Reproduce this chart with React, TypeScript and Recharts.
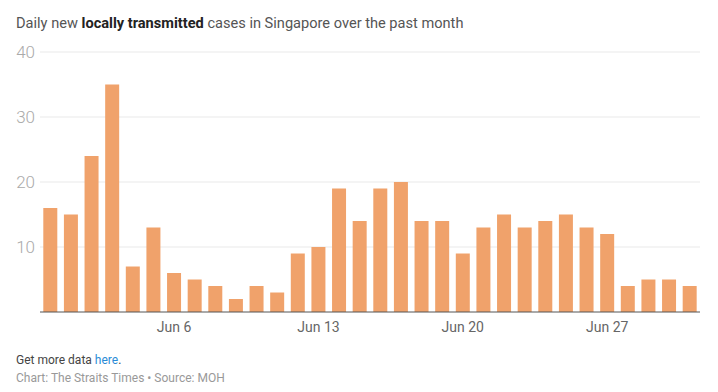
import { BarChart, Bar, XAxis, YAxis, CartesianGrid } from "recharts";

const dates = [
  "May 31", "Jun 1", "Jun 2", "Jun 3", "Jun 4", "Jun 5", "Jun 6", "Jun 7", "Jun 8", "Jun 9",
  "Jun 10", "Jun 11", "Jun 12", "Jun 13", "Jun 14", "Jun 15", "Jun 16", "Jun 17", "Jun 18", "Jun 19",
  "Jun 20", "Jun 21", "Jun 22", "Jun 23", "Jun 24", "Jun 25", "Jun 26", "Jun 27", "Jun 28", "Jun 29",
  "Jun 30", "Jul 1",
];

const cases = [
  16, 15, 24, 35, 7, 13, 6, 5, 4, 2,
  4, 3, 9, 10, 19, 14, 19, 20, 14, 14,
  9, 13, 15, 13, 14, 15, 13, 12, 4, 5,
  5, 4,
];

const xTicks = ["Jun 6", "Jun 13", "Jun 20", "Jun 27"];
const yTicks = [10, 20, 30, 40];

const data = dates.map((d, i) => ({ date: d, cases: cases[i] }));

const font = "Roboto, 'Noto Sans', sans-serif";

export default function App() {
  return (
    <div style={{ position: "absolute", left: 0, top: 0, width: 718, height: 392, background: "#fff", fontFamily: font }}>
      <div style={{ position: "absolute", left: 16, top: 14, fontSize: 14.6, color: "#555", whiteSpace: "nowrap" }}>
        Daily new <b style={{ color: "#222" }}>locally transmitted</b> cases in Singapore over the past month
      </div>
      <BarChart
        width={718}
        height={342}
        data={data}
        margin={{ top: 52, right: 18, left: 0, bottom: 0 }}
        barCategoryGap="16%"
      >
        <CartesianGrid vertical={false} stroke="#e9e9e9" horizontalValues={yTicks} />
        <XAxis
          dataKey="date"
          ticks={xTicks}
          interval={0}
          tickLine={false}
          axisLine={{ stroke: "#555" }}
          tick={{ fontSize: 14, fill: "#666", fontFamily: font }}
          height={30}
          tickMargin={4}
        />
        <YAxis
          domain={[0, 40]}
          ticks={yTicks}
          width={40}
          axisLine={false}
          tickLine={false}
          tickSize={0}
          tickMargin={5}
          tick={{ fontSize: 17, fill: "#aaa", fontFamily: font, fontWeight: 300 }}
        />
        <Bar dataKey="cases" fill="#f0a26b" isAnimationActive={false} />
      </BarChart>
      <div style={{ position: "absolute", left: 16, top: 353, fontSize: 12, color: "#444" }}>
        Get more data <span style={{ color: "#2a8bd6" }}>here</span>.
      </div>
      <div style={{ position: "absolute", left: 16, top: 371, fontSize: 12, color: "#999" }}>
        Chart: The Straits Times • Source: MOH
      </div>
    </div>
  );
}
